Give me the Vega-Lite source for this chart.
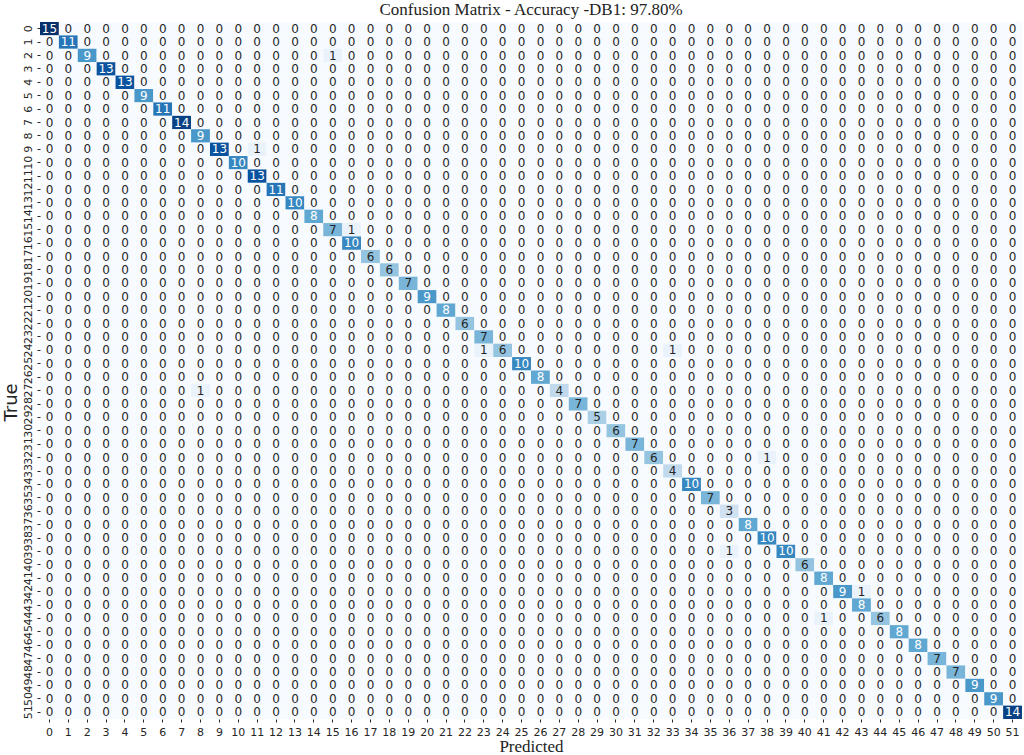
{
"$schema": "https://vega.github.io/schema/vega-lite/v6.json",
"width": 982,
"height": 697,
"autosize": {"type": "none"},
"padding": {"left": 40, "top": 22, "right": 2, "bottom": 36},
"background": "white",
"title": {"text": "Confusion Matrix - Accuracy -DB1: 97.80%", "font": "Liberation Serif", "fontSize": 17, "fontWeight": "normal", "color": "#222222", "offset": 3},
"data": {"values": [
{"t":0,"p":[0,1,2,3,4,5,6,7,8,9,10,11,12,13,14,15,16,17,18,19,20,21,22,23,24,25,26,27,28,29,30,31,32,33,34,35,36,37,38,39,40,41,42,43,44,45,46,47,48,49,50,51],"v":[15,0,0,0,0,0,0,0,0,0,0,0,0,0,0,0,0,0,0,0,0,0,0,0,0,0,0,0,0,0,0,0,0,0,0,0,0,0,0,0,0,0,0,0,0,0,0,0,0,0,0,0]},
{"t":1,"p":[0,1,2,3,4,5,6,7,8,9,10,11,12,13,14,15,16,17,18,19,20,21,22,23,24,25,26,27,28,29,30,31,32,33,34,35,36,37,38,39,40,41,42,43,44,45,46,47,48,49,50,51],"v":[0,11,0,0,0,0,0,0,0,0,0,0,0,0,0,0,0,0,0,0,0,0,0,0,0,0,0,0,0,0,0,0,0,0,0,0,0,0,0,0,0,0,0,0,0,0,0,0,0,0,0,0]},
{"t":2,"p":[0,1,2,3,4,5,6,7,8,9,10,11,12,13,14,15,16,17,18,19,20,21,22,23,24,25,26,27,28,29,30,31,32,33,34,35,36,37,38,39,40,41,42,43,44,45,46,47,48,49,50,51],"v":[0,0,9,0,0,0,0,0,0,0,0,0,0,0,0,1,0,0,0,0,0,0,0,0,0,0,0,0,0,0,0,0,0,0,0,0,0,0,0,0,0,0,0,0,0,0,0,0,0,0,0,0]},
{"t":3,"p":[0,1,2,3,4,5,6,7,8,9,10,11,12,13,14,15,16,17,18,19,20,21,22,23,24,25,26,27,28,29,30,31,32,33,34,35,36,37,38,39,40,41,42,43,44,45,46,47,48,49,50,51],"v":[0,0,0,13,0,0,0,0,0,0,0,0,0,0,0,0,0,0,0,0,0,0,0,0,0,0,0,0,0,0,0,0,0,0,0,0,0,0,0,0,0,0,0,0,0,0,0,0,0,0,0,0]},
{"t":4,"p":[0,1,2,3,4,5,6,7,8,9,10,11,12,13,14,15,16,17,18,19,20,21,22,23,24,25,26,27,28,29,30,31,32,33,34,35,36,37,38,39,40,41,42,43,44,45,46,47,48,49,50,51],"v":[0,0,0,0,13,0,0,0,0,0,0,0,0,0,0,0,0,0,0,0,0,0,0,0,0,0,0,0,0,0,0,0,0,0,0,0,0,0,0,0,0,0,0,0,0,0,0,0,0,0,0,0]},
{"t":5,"p":[0,1,2,3,4,5,6,7,8,9,10,11,12,13,14,15,16,17,18,19,20,21,22,23,24,25,26,27,28,29,30,31,32,33,34,35,36,37,38,39,40,41,42,43,44,45,46,47,48,49,50,51],"v":[0,0,0,0,0,9,0,0,0,0,0,0,0,0,0,0,0,0,0,0,0,0,0,0,0,0,0,0,0,0,0,0,0,0,0,0,0,0,0,0,0,0,0,0,0,0,0,0,0,0,0,0]},
{"t":6,"p":[0,1,2,3,4,5,6,7,8,9,10,11,12,13,14,15,16,17,18,19,20,21,22,23,24,25,26,27,28,29,30,31,32,33,34,35,36,37,38,39,40,41,42,43,44,45,46,47,48,49,50,51],"v":[0,0,0,0,0,0,11,0,0,0,0,0,0,0,0,0,0,0,0,0,0,0,0,0,0,0,0,0,0,0,0,0,0,0,0,0,0,0,0,0,0,0,0,0,0,0,0,0,0,0,0,0]},
{"t":7,"p":[0,1,2,3,4,5,6,7,8,9,10,11,12,13,14,15,16,17,18,19,20,21,22,23,24,25,26,27,28,29,30,31,32,33,34,35,36,37,38,39,40,41,42,43,44,45,46,47,48,49,50,51],"v":[0,0,0,0,0,0,0,14,0,0,0,0,0,0,0,0,0,0,0,0,0,0,0,0,0,0,0,0,0,0,0,0,0,0,0,0,0,0,0,0,0,0,0,0,0,0,0,0,0,0,0,0]},
{"t":8,"p":[0,1,2,3,4,5,6,7,8,9,10,11,12,13,14,15,16,17,18,19,20,21,22,23,24,25,26,27,28,29,30,31,32,33,34,35,36,37,38,39,40,41,42,43,44,45,46,47,48,49,50,51],"v":[0,0,0,0,0,0,0,0,9,0,0,0,0,0,0,0,0,0,0,0,0,0,0,0,0,0,0,0,0,0,0,0,0,0,0,0,0,0,0,0,0,0,0,0,0,0,0,0,0,0,0,0]},
{"t":9,"p":[0,1,2,3,4,5,6,7,8,9,10,11,12,13,14,15,16,17,18,19,20,21,22,23,24,25,26,27,28,29,30,31,32,33,34,35,36,37,38,39,40,41,42,43,44,45,46,47,48,49,50,51],"v":[0,0,0,0,0,0,0,0,0,13,0,1,0,0,0,0,0,0,0,0,0,0,0,0,0,0,0,0,0,0,0,0,0,0,0,0,0,0,0,0,0,0,0,0,0,0,0,0,0,0,0,0]},
{"t":10,"p":[0,1,2,3,4,5,6,7,8,9,10,11,12,13,14,15,16,17,18,19,20,21,22,23,24,25,26,27,28,29,30,31,32,33,34,35,36,37,38,39,40,41,42,43,44,45,46,47,48,49,50,51],"v":[0,0,0,0,0,0,0,0,0,0,10,0,0,0,0,0,0,0,0,0,0,0,0,0,0,0,0,0,0,0,0,0,0,0,0,0,0,0,0,0,0,0,0,0,0,0,0,0,0,0,0,0]},
{"t":11,"p":[0,1,2,3,4,5,6,7,8,9,10,11,12,13,14,15,16,17,18,19,20,21,22,23,24,25,26,27,28,29,30,31,32,33,34,35,36,37,38,39,40,41,42,43,44,45,46,47,48,49,50,51],"v":[0,0,0,0,0,0,0,0,0,0,0,13,0,0,0,0,0,0,0,0,0,0,0,0,0,0,0,0,0,0,0,0,0,0,0,0,0,0,0,0,0,0,0,0,0,0,0,0,0,0,0,0]},
{"t":12,"p":[0,1,2,3,4,5,6,7,8,9,10,11,12,13,14,15,16,17,18,19,20,21,22,23,24,25,26,27,28,29,30,31,32,33,34,35,36,37,38,39,40,41,42,43,44,45,46,47,48,49,50,51],"v":[0,0,0,0,0,0,0,0,0,0,0,0,11,0,0,0,0,0,0,0,0,0,0,0,0,0,0,0,0,0,0,0,0,0,0,0,0,0,0,0,0,0,0,0,0,0,0,0,0,0,0,0]},
{"t":13,"p":[0,1,2,3,4,5,6,7,8,9,10,11,12,13,14,15,16,17,18,19,20,21,22,23,24,25,26,27,28,29,30,31,32,33,34,35,36,37,38,39,40,41,42,43,44,45,46,47,48,49,50,51],"v":[0,0,0,0,0,0,0,0,0,0,0,0,0,10,0,0,0,0,0,0,0,0,0,0,0,0,0,0,0,0,0,0,0,0,0,0,0,0,0,0,0,0,0,0,0,0,0,0,0,0,0,0]},
{"t":14,"p":[0,1,2,3,4,5,6,7,8,9,10,11,12,13,14,15,16,17,18,19,20,21,22,23,24,25,26,27,28,29,30,31,32,33,34,35,36,37,38,39,40,41,42,43,44,45,46,47,48,49,50,51],"v":[0,0,0,0,0,0,0,0,0,0,0,0,0,0,8,0,0,0,0,0,0,0,0,0,0,0,0,0,0,0,0,0,0,0,0,0,0,0,0,0,0,0,0,0,0,0,0,0,0,0,0,0]},
{"t":15,"p":[0,1,2,3,4,5,6,7,8,9,10,11,12,13,14,15,16,17,18,19,20,21,22,23,24,25,26,27,28,29,30,31,32,33,34,35,36,37,38,39,40,41,42,43,44,45,46,47,48,49,50,51],"v":[0,0,0,0,0,0,0,0,0,0,0,0,0,0,0,7,1,0,0,0,0,0,0,0,0,0,0,0,0,0,0,0,0,0,0,0,0,0,0,0,0,0,0,0,0,0,0,0,0,0,0,0]},
{"t":16,"p":[0,1,2,3,4,5,6,7,8,9,10,11,12,13,14,15,16,17,18,19,20,21,22,23,24,25,26,27,28,29,30,31,32,33,34,35,36,37,38,39,40,41,42,43,44,45,46,47,48,49,50,51],"v":[0,0,0,0,0,0,0,0,0,0,0,0,0,0,0,0,10,0,0,0,0,0,0,0,0,0,0,0,0,0,0,0,0,0,0,0,0,0,0,0,0,0,0,0,0,0,0,0,0,0,0,0]},
{"t":17,"p":[0,1,2,3,4,5,6,7,8,9,10,11,12,13,14,15,16,17,18,19,20,21,22,23,24,25,26,27,28,29,30,31,32,33,34,35,36,37,38,39,40,41,42,43,44,45,46,47,48,49,50,51],"v":[0,0,0,0,0,0,0,0,0,0,0,0,0,0,0,0,0,6,0,0,0,0,0,0,0,0,0,0,0,0,0,0,0,0,0,0,0,0,0,0,0,0,0,0,0,0,0,0,0,0,0,0]},
{"t":18,"p":[0,1,2,3,4,5,6,7,8,9,10,11,12,13,14,15,16,17,18,19,20,21,22,23,24,25,26,27,28,29,30,31,32,33,34,35,36,37,38,39,40,41,42,43,44,45,46,47,48,49,50,51],"v":[0,0,0,0,0,0,0,0,0,0,0,0,0,0,0,0,0,0,6,0,0,0,0,0,0,0,0,0,0,0,0,0,0,0,0,0,0,0,0,0,0,0,0,0,0,0,0,0,0,0,0,0]},
{"t":19,"p":[0,1,2,3,4,5,6,7,8,9,10,11,12,13,14,15,16,17,18,19,20,21,22,23,24,25,26,27,28,29,30,31,32,33,34,35,36,37,38,39,40,41,42,43,44,45,46,47,48,49,50,51],"v":[0,0,0,0,0,0,0,0,0,0,0,0,0,0,0,0,0,0,0,7,0,0,0,0,0,0,0,0,0,0,0,0,0,0,0,0,0,0,0,0,0,0,0,0,0,0,0,0,0,0,0,0]},
{"t":20,"p":[0,1,2,3,4,5,6,7,8,9,10,11,12,13,14,15,16,17,18,19,20,21,22,23,24,25,26,27,28,29,30,31,32,33,34,35,36,37,38,39,40,41,42,43,44,45,46,47,48,49,50,51],"v":[0,0,0,0,0,0,0,0,0,0,0,0,0,0,0,0,0,0,0,0,9,0,0,0,0,0,0,0,0,0,0,0,0,0,0,0,0,0,0,0,0,0,0,0,0,0,0,0,0,0,0,0]},
{"t":21,"p":[0,1,2,3,4,5,6,7,8,9,10,11,12,13,14,15,16,17,18,19,20,21,22,23,24,25,26,27,28,29,30,31,32,33,34,35,36,37,38,39,40,41,42,43,44,45,46,47,48,49,50,51],"v":[0,0,0,0,0,0,0,0,0,0,0,0,0,0,0,0,0,0,0,0,0,8,0,0,0,0,0,0,0,0,0,0,0,0,0,0,0,0,0,0,0,0,0,0,0,0,0,0,0,0,0,0]},
{"t":22,"p":[0,1,2,3,4,5,6,7,8,9,10,11,12,13,14,15,16,17,18,19,20,21,22,23,24,25,26,27,28,29,30,31,32,33,34,35,36,37,38,39,40,41,42,43,44,45,46,47,48,49,50,51],"v":[0,0,0,0,0,0,0,0,0,0,0,0,0,0,0,0,0,0,0,0,0,0,6,0,0,0,0,0,0,0,0,0,0,0,0,0,0,0,0,0,0,0,0,0,0,0,0,0,0,0,0,0]},
{"t":23,"p":[0,1,2,3,4,5,6,7,8,9,10,11,12,13,14,15,16,17,18,19,20,21,22,23,24,25,26,27,28,29,30,31,32,33,34,35,36,37,38,39,40,41,42,43,44,45,46,47,48,49,50,51],"v":[0,0,0,0,0,0,0,0,0,0,0,0,0,0,0,0,0,0,0,0,0,0,0,7,0,0,0,0,0,0,0,0,0,0,0,0,0,0,0,0,0,0,0,0,0,0,0,0,0,0,0,0]},
{"t":24,"p":[0,1,2,3,4,5,6,7,8,9,10,11,12,13,14,15,16,17,18,19,20,21,22,23,24,25,26,27,28,29,30,31,32,33,34,35,36,37,38,39,40,41,42,43,44,45,46,47,48,49,50,51],"v":[0,0,0,0,0,0,0,0,0,0,0,0,0,0,0,0,0,0,0,0,0,0,0,1,6,0,0,0,0,0,0,0,0,1,0,0,0,0,0,0,0,0,0,0,0,0,0,0,0,0,0,0]},
{"t":25,"p":[0,1,2,3,4,5,6,7,8,9,10,11,12,13,14,15,16,17,18,19,20,21,22,23,24,25,26,27,28,29,30,31,32,33,34,35,36,37,38,39,40,41,42,43,44,45,46,47,48,49,50,51],"v":[0,0,0,0,0,0,0,0,0,0,0,0,0,0,0,0,0,0,0,0,0,0,0,0,0,10,0,0,0,0,0,0,0,0,0,0,0,0,0,0,0,0,0,0,0,0,0,0,0,0,0,0]},
{"t":26,"p":[0,1,2,3,4,5,6,7,8,9,10,11,12,13,14,15,16,17,18,19,20,21,22,23,24,25,26,27,28,29,30,31,32,33,34,35,36,37,38,39,40,41,42,43,44,45,46,47,48,49,50,51],"v":[0,0,0,0,0,0,0,0,0,0,0,0,0,0,0,0,0,0,0,0,0,0,0,0,0,0,8,0,0,0,0,0,0,0,0,0,0,0,0,0,0,0,0,0,0,0,0,0,0,0,0,0]},
{"t":27,"p":[0,1,2,3,4,5,6,7,8,9,10,11,12,13,14,15,16,17,18,19,20,21,22,23,24,25,26,27,28,29,30,31,32,33,34,35,36,37,38,39,40,41,42,43,44,45,46,47,48,49,50,51],"v":[0,0,0,0,0,0,0,0,1,0,0,0,0,0,0,0,0,0,0,0,0,0,0,0,0,0,0,4,0,0,0,0,0,0,0,0,0,0,0,0,0,0,0,0,0,0,0,0,0,0,0,0]},
{"t":28,"p":[0,1,2,3,4,5,6,7,8,9,10,11,12,13,14,15,16,17,18,19,20,21,22,23,24,25,26,27,28,29,30,31,32,33,34,35,36,37,38,39,40,41,42,43,44,45,46,47,48,49,50,51],"v":[0,0,0,0,0,0,0,0,0,0,0,0,0,0,0,0,0,0,0,0,0,0,0,0,0,0,0,0,7,0,0,0,0,0,0,0,0,0,0,0,0,0,0,0,0,0,0,0,0,0,0,0]},
{"t":29,"p":[0,1,2,3,4,5,6,7,8,9,10,11,12,13,14,15,16,17,18,19,20,21,22,23,24,25,26,27,28,29,30,31,32,33,34,35,36,37,38,39,40,41,42,43,44,45,46,47,48,49,50,51],"v":[0,0,0,0,0,0,0,0,0,0,0,0,0,0,0,0,0,0,0,0,0,0,0,0,0,0,0,0,0,5,0,0,0,0,0,0,0,0,0,0,0,0,0,0,0,0,0,0,0,0,0,0]},
{"t":30,"p":[0,1,2,3,4,5,6,7,8,9,10,11,12,13,14,15,16,17,18,19,20,21,22,23,24,25,26,27,28,29,30,31,32,33,34,35,36,37,38,39,40,41,42,43,44,45,46,47,48,49,50,51],"v":[0,0,0,0,0,0,0,0,0,0,0,0,0,0,0,0,0,0,0,0,0,0,0,0,0,0,0,0,0,0,6,0,0,0,0,0,0,0,0,0,0,0,0,0,0,0,0,0,0,0,0,0]},
{"t":31,"p":[0,1,2,3,4,5,6,7,8,9,10,11,12,13,14,15,16,17,18,19,20,21,22,23,24,25,26,27,28,29,30,31,32,33,34,35,36,37,38,39,40,41,42,43,44,45,46,47,48,49,50,51],"v":[0,0,0,0,0,0,0,0,0,0,0,0,0,0,0,0,0,0,0,0,0,0,0,0,0,0,0,0,0,0,0,7,0,0,0,0,0,0,0,0,0,0,0,0,0,0,0,0,0,0,0,0]},
{"t":32,"p":[0,1,2,3,4,5,6,7,8,9,10,11,12,13,14,15,16,17,18,19,20,21,22,23,24,25,26,27,28,29,30,31,32,33,34,35,36,37,38,39,40,41,42,43,44,45,46,47,48,49,50,51],"v":[0,0,0,0,0,0,0,0,0,0,0,0,0,0,0,0,0,0,0,0,0,0,0,0,0,0,0,0,0,0,0,0,6,0,0,0,0,0,1,0,0,0,0,0,0,0,0,0,0,0,0,0]},
{"t":33,"p":[0,1,2,3,4,5,6,7,8,9,10,11,12,13,14,15,16,17,18,19,20,21,22,23,24,25,26,27,28,29,30,31,32,33,34,35,36,37,38,39,40,41,42,43,44,45,46,47,48,49,50,51],"v":[0,0,0,0,0,0,0,0,0,0,0,0,0,0,0,0,0,0,0,0,0,0,0,0,0,0,0,0,0,0,0,0,0,4,0,0,0,0,0,0,0,0,0,0,0,0,0,0,0,0,0,0]},
{"t":34,"p":[0,1,2,3,4,5,6,7,8,9,10,11,12,13,14,15,16,17,18,19,20,21,22,23,24,25,26,27,28,29,30,31,32,33,34,35,36,37,38,39,40,41,42,43,44,45,46,47,48,49,50,51],"v":[0,0,0,0,0,0,0,0,0,0,0,0,0,0,0,0,0,0,0,0,0,0,0,0,0,0,0,0,0,0,0,0,0,0,10,0,0,0,0,0,0,0,0,0,0,0,0,0,0,0,0,0]},
{"t":35,"p":[0,1,2,3,4,5,6,7,8,9,10,11,12,13,14,15,16,17,18,19,20,21,22,23,24,25,26,27,28,29,30,31,32,33,34,35,36,37,38,39,40,41,42,43,44,45,46,47,48,49,50,51],"v":[0,0,0,0,0,0,0,0,0,0,0,0,0,0,0,0,0,0,0,0,0,0,0,0,0,0,0,0,0,0,0,0,0,0,0,7,0,0,0,0,0,0,0,0,0,0,0,0,0,0,0,0]},
{"t":36,"p":[0,1,2,3,4,5,6,7,8,9,10,11,12,13,14,15,16,17,18,19,20,21,22,23,24,25,26,27,28,29,30,31,32,33,34,35,36,37,38,39,40,41,42,43,44,45,46,47,48,49,50,51],"v":[0,0,0,0,0,0,0,0,0,0,0,0,0,0,0,0,0,0,0,0,0,0,0,0,0,0,0,0,0,0,0,0,0,0,0,0,3,0,0,0,0,0,0,0,0,0,0,0,0,0,0,0]},
{"t":37,"p":[0,1,2,3,4,5,6,7,8,9,10,11,12,13,14,15,16,17,18,19,20,21,22,23,24,25,26,27,28,29,30,31,32,33,34,35,36,37,38,39,40,41,42,43,44,45,46,47,48,49,50,51],"v":[0,0,0,0,0,0,0,0,0,0,0,0,0,0,0,0,0,0,0,0,0,0,0,0,0,0,0,0,0,0,0,0,0,0,0,0,0,8,0,0,0,0,0,0,0,0,0,0,0,0,0,0]},
{"t":38,"p":[0,1,2,3,4,5,6,7,8,9,10,11,12,13,14,15,16,17,18,19,20,21,22,23,24,25,26,27,28,29,30,31,32,33,34,35,36,37,38,39,40,41,42,43,44,45,46,47,48,49,50,51],"v":[0,0,0,0,0,0,0,0,0,0,0,0,0,0,0,0,0,0,0,0,0,0,0,0,0,0,0,0,0,0,0,0,0,0,0,0,0,0,10,0,0,0,0,0,0,0,0,0,0,0,0,0]},
{"t":39,"p":[0,1,2,3,4,5,6,7,8,9,10,11,12,13,14,15,16,17,18,19,20,21,22,23,24,25,26,27,28,29,30,31,32,33,34,35,36,37,38,39,40,41,42,43,44,45,46,47,48,49,50,51],"v":[0,0,0,0,0,0,0,0,0,0,0,0,0,0,0,0,0,0,0,0,0,0,0,0,0,0,0,0,0,0,0,0,0,0,0,0,1,0,0,10,0,0,0,0,0,0,0,0,0,0,0,0]},
{"t":40,"p":[0,1,2,3,4,5,6,7,8,9,10,11,12,13,14,15,16,17,18,19,20,21,22,23,24,25,26,27,28,29,30,31,32,33,34,35,36,37,38,39,40,41,42,43,44,45,46,47,48,49,50,51],"v":[0,0,0,0,0,0,0,0,0,0,0,0,0,0,0,0,0,0,0,0,0,0,0,0,0,0,0,0,0,0,0,0,0,0,0,0,0,0,0,0,6,0,0,0,0,0,0,0,0,0,0,0]},
{"t":41,"p":[0,1,2,3,4,5,6,7,8,9,10,11,12,13,14,15,16,17,18,19,20,21,22,23,24,25,26,27,28,29,30,31,32,33,34,35,36,37,38,39,40,41,42,43,44,45,46,47,48,49,50,51],"v":[0,0,0,0,0,0,0,0,0,0,0,0,0,0,0,0,0,0,0,0,0,0,0,0,0,0,0,0,0,0,0,0,0,0,0,0,0,0,0,0,0,8,0,0,0,0,0,0,0,0,0,0]},
{"t":42,"p":[0,1,2,3,4,5,6,7,8,9,10,11,12,13,14,15,16,17,18,19,20,21,22,23,24,25,26,27,28,29,30,31,32,33,34,35,36,37,38,39,40,41,42,43,44,45,46,47,48,49,50,51],"v":[0,0,0,0,0,0,0,0,0,0,0,0,0,0,0,0,0,0,0,0,0,0,0,0,0,0,0,0,0,0,0,0,0,0,0,0,0,0,0,0,0,0,9,1,0,0,0,0,0,0,0,0]},
{"t":43,"p":[0,1,2,3,4,5,6,7,8,9,10,11,12,13,14,15,16,17,18,19,20,21,22,23,24,25,26,27,28,29,30,31,32,33,34,35,36,37,38,39,40,41,42,43,44,45,46,47,48,49,50,51],"v":[0,0,0,0,0,0,0,0,0,0,0,0,0,0,0,0,0,0,0,0,0,0,0,0,0,0,0,0,0,0,0,0,0,0,0,0,0,0,0,0,0,0,0,8,0,0,0,0,0,0,0,0]},
{"t":44,"p":[0,1,2,3,4,5,6,7,8,9,10,11,12,13,14,15,16,17,18,19,20,21,22,23,24,25,26,27,28,29,30,31,32,33,34,35,36,37,38,39,40,41,42,43,44,45,46,47,48,49,50,51],"v":[0,0,0,0,0,0,0,0,0,0,0,0,0,0,0,0,0,0,0,0,0,0,0,0,0,0,0,0,0,0,0,0,0,0,0,0,0,0,0,0,0,1,0,0,6,0,0,0,0,0,0,0]},
{"t":45,"p":[0,1,2,3,4,5,6,7,8,9,10,11,12,13,14,15,16,17,18,19,20,21,22,23,24,25,26,27,28,29,30,31,32,33,34,35,36,37,38,39,40,41,42,43,44,45,46,47,48,49,50,51],"v":[0,0,0,0,0,0,0,0,0,0,0,0,0,0,0,0,0,0,0,0,0,0,0,0,0,0,0,0,0,0,0,0,0,0,0,0,0,0,0,0,0,0,0,0,0,8,0,0,0,0,0,0]},
{"t":46,"p":[0,1,2,3,4,5,6,7,8,9,10,11,12,13,14,15,16,17,18,19,20,21,22,23,24,25,26,27,28,29,30,31,32,33,34,35,36,37,38,39,40,41,42,43,44,45,46,47,48,49,50,51],"v":[0,0,0,0,0,0,0,0,0,0,0,0,0,0,0,0,0,0,0,0,0,0,0,0,0,0,0,0,0,0,0,0,0,0,0,0,0,0,0,0,0,0,0,0,0,0,8,0,0,0,0,0]},
{"t":47,"p":[0,1,2,3,4,5,6,7,8,9,10,11,12,13,14,15,16,17,18,19,20,21,22,23,24,25,26,27,28,29,30,31,32,33,34,35,36,37,38,39,40,41,42,43,44,45,46,47,48,49,50,51],"v":[0,0,0,0,0,0,0,0,0,0,0,0,0,0,0,0,0,0,0,0,0,0,0,0,0,0,0,0,0,0,0,0,0,0,0,0,0,0,0,0,0,0,0,0,0,0,0,7,0,0,0,0]},
{"t":48,"p":[0,1,2,3,4,5,6,7,8,9,10,11,12,13,14,15,16,17,18,19,20,21,22,23,24,25,26,27,28,29,30,31,32,33,34,35,36,37,38,39,40,41,42,43,44,45,46,47,48,49,50,51],"v":[0,0,0,0,0,0,0,0,0,0,0,0,0,0,0,0,0,0,0,0,0,0,0,0,0,0,0,0,0,0,0,0,0,0,0,0,0,0,0,0,0,0,0,0,0,0,0,0,7,0,0,0]},
{"t":49,"p":[0,1,2,3,4,5,6,7,8,9,10,11,12,13,14,15,16,17,18,19,20,21,22,23,24,25,26,27,28,29,30,31,32,33,34,35,36,37,38,39,40,41,42,43,44,45,46,47,48,49,50,51],"v":[0,0,0,0,0,0,0,0,0,0,0,0,0,0,0,0,0,0,0,0,0,0,0,0,0,0,0,0,0,0,0,0,0,0,0,0,0,0,0,0,0,0,0,0,0,0,0,0,0,9,0,0]},
{"t":50,"p":[0,1,2,3,4,5,6,7,8,9,10,11,12,13,14,15,16,17,18,19,20,21,22,23,24,25,26,27,28,29,30,31,32,33,34,35,36,37,38,39,40,41,42,43,44,45,46,47,48,49,50,51],"v":[0,0,0,0,0,0,0,0,0,0,0,0,0,0,0,0,0,0,0,0,0,0,0,0,0,0,0,0,0,0,0,0,0,0,0,0,0,0,0,0,0,0,0,0,0,0,0,0,0,0,9,0]},
{"t":51,"p":[0,1,2,3,4,5,6,7,8,9,10,11,12,13,14,15,16,17,18,19,20,21,22,23,24,25,26,27,28,29,30,31,32,33,34,35,36,37,38,39,40,41,42,43,44,45,46,47,48,49,50,51],"v":[0,0,0,0,0,0,0,0,0,0,0,0,0,0,0,0,0,0,0,0,0,0,0,0,0,0,0,0,0,0,0,0,0,0,0,0,0,0,0,0,0,0,0,0,0,0,0,0,0,0,0,14]}
]},
"transform": [{"flatten": ["p", "v"]}],
"encoding": {
  "x": {"field": "p", "type": "ordinal", "title": "Predicted",
    "scale": {"paddingInner": 0, "paddingOuter": 0},
    "axis": {"orient": "bottom", "labelAngle": 0, "labelFont": "DejaVu Sans", "labelFontSize": 11, "labelColor": "#262626", "tickSize": 3, "tickColor": "#262626", "domain": false, "labelPadding": 4, "labelOverlap": false, "titleFont": "Liberation Serif", "titleFontSize": 17, "titleFontWeight": "normal", "titleColor": "#222222", "titlePadding": 1}},
  "y": {"field": "t", "type": "ordinal", "title": "True",
    "scale": {"paddingInner": 0, "paddingOuter": 0},
    "axis": {"labelAngle": 270, "labelAlign": "center", "labelBaseline": "bottom", "labelFont": "DejaVu Sans", "labelFontSize": 11, "labelColor": "#262626", "tickSize": 3, "tickColor": "#262626", "domain": false, "labelPadding": 4, "labelOverlap": false, "labelBound": false, "titleFont": "DejaVu Sans", "titleFontSize": 18, "titleFontWeight": "normal", "titleColor": "#222222", "titlePadding": 2, "titleY": 380}}
},
"layer": [
  {"mark": {"type": "rect"},
   "encoding": {"color": {"field": "v", "type": "quantitative", "legend": null,
     "scale": {"domain": [0, 1.875, 3.75, 5.625, 7.5, 9.375, 11.25, 13.125, 15], "range": ["#f7fbff", "#deebf7", "#c6dbef", "#9ecae1", "#6baed6", "#4292c6", "#2171b5", "#08519c", "#08306b"], "interpolate": "rgb"}}}},
  {"mark": {"type": "text", "font": "DejaVu Sans", "fontSize": 12},
   "encoding": {"text": {"field": "v", "type": "quantitative"},
     "color": {"condition": {"test": "datum.v >= 8", "value": "#ffffff"}, "value": "#262626"}}}
],
"config": {"view": {"stroke": null}}
}
